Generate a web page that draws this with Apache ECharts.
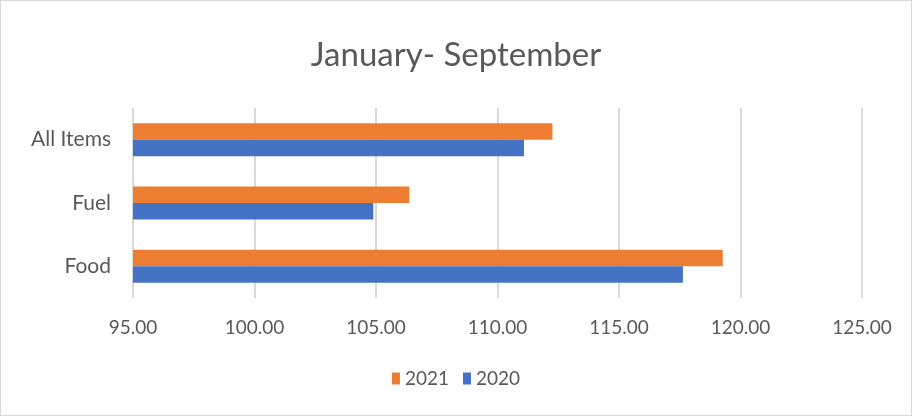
<!DOCTYPE html>
<html>
<head>
<meta charset="utf-8">
<script src="https://cdn.jsdelivr.net/npm/echarts@6/dist/echarts.min.js"></script>
<style>
  html, body { margin: 0; padding: 0; background: #fff; }
  #main { width: 912px; height: 416px; box-sizing: border-box; border: 1px solid #d9d9d9; }
</style>
</head>
<body>
<div id="main"></div>
<script>
// bottom to top, as ECharts lays out a category y axis
const categories = ['Food', 'Fuel', 'All Items']
const values2020 = [117.63, 104.89, 111.09]
const values2021 = [119.27, 106.37, 112.26]
const legendNames = ['2021', '2020']

const textColor = '#595959'
const font = 'Lato, "Open Sans", sans-serif'

const chart = echarts.init(document.getElementById('main'))
chart.setOption({
  animation: false,
  title: {
    text: 'January- September',
    left: 'center',
    top: 33,
    textStyle: { fontFamily: font, fontSize: 33, fontWeight: 'normal', color: textColor }
  },
  legend: {
    data: legendNames,
    bottom: 22,
    left: 'center',
    itemWidth: 8,
    itemHeight: 12,
    itemGap: 14,
    icon: 'rect',
    textStyle: { fontFamily: font, fontSize: 19, color: textColor }
  },
  grid: { left: 132, right: 49, top: 107, bottom: 117 },
  xAxis: {
    type: 'value',
    min: 95,
    max: 125,
    interval: 5,
    axisLine: { show: false },
    axisTick: { show: false },
    splitLine: { lineStyle: { color: '#d9d9d9', width: 2 } },
    axisLabel: {
      margin: 20,
      fontFamily: font,
      fontSize: 19,
      color: textColor,
      formatter: v => v.toFixed(2)
    }
  },
  yAxis: {
    type: 'category',
    data: categories,
    axisLine: { show: false },
    axisTick: { show: false },
    axisLabel: { margin: 22, fontFamily: font, fontSize: 21, color: textColor }
  },
  series: [
    {
      name: '2021',
      type: 'bar',
      data: values2021,
      barGap: '0%',
      barCategoryGap: '48%',
      itemStyle: { color: '#ed7d31' }
    },
    {
      name: '2020',
      type: 'bar',
      data: values2020,
      itemStyle: { color: '#4472c4' }
    }
  ]
})
</script>
</body>
</html>
